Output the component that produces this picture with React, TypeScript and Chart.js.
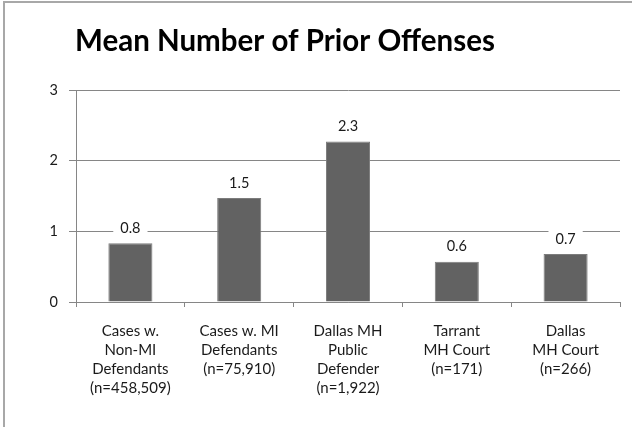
import React, { useEffect, useRef } from "react";
import { Chart, registerables } from "chart.js";

Chart.register(...registerables);

const titleText = "Mean Number of Prior Offenses";
const categories: string[][] = [
  ["Cases w.", "Non-MI", "Defendants", "(n=458,509)"],
  ["Cases w. MI", "Defendants", "(n=75,910)"],
  ["Dallas MH", "Public", "Defender", "(n=1,922)"],
  ["Tarrant", "MH Court", "(n=171)"],
  ["Dallas", "MH Court", "(n=266)"],
];
const meanPriorOffenses = [0.83, 1.47, 2.27, 0.57, 0.68];
const yTicks = [0, 1, 2, 3];

const FONT = "Lato, 'Open Sans', 'DejaVu Sans', sans-serif";

export default function App() {
  const ref = useRef<HTMLCanvasElement | null>(null);

  useEffect(() => {
    const canvas = ref.current;
    if (!canvas) return;

    const framePlugin = {
      id: "frame",
      beforeDraw(chart: any) {
        const ctx = chart.ctx;
        ctx.save();
        ctx.fillStyle = "#ffffff";
        ctx.fillRect(0, 0, chart.width, chart.height);
        ctx.fillStyle = "#a8a8a8";
        ctx.fillRect(3, 1, chart.width - 3, 2);
        ctx.fillRect(3, 1, 2, chart.height - 1);
        ctx.restore();
      },
      afterDraw(chart: any) {
        const ctx = chart.ctx;
        ctx.save();
        ctx.fillStyle = "#000000";
        ctx.font = `bold 29.5px ${FONT}`;
        ctx.textAlign = "left";
        ctx.textBaseline = "alphabetic";
        ctx.fillText(titleText, 75, 51);
        ctx.restore();
      },
    };

    const labelPlugin = {
      id: "barLabels",
      afterDatasetsDraw(chart: any) {
        const ctx = chart.ctx;
        const meta = chart.getDatasetMeta(0);
        ctx.save();
        ctx.font = `14.5px ${FONT}`;
        ctx.textAlign = "center";
        ctx.textBaseline = "middle";
        meta.data.forEach((bar: any, i: number) => {
          const txt = meanPriorOffenses[i].toFixed(1);
          const w = ctx.measureText(txt).width + 14;
          const cy = bar.y - 15;
          ctx.fillStyle = "#ffffff";
          ctx.fillRect(bar.x - w / 2, cy - 9, w, 18);
          ctx.fillStyle = "#1a1a1a";
          ctx.fillText(txt, bar.x, cy);
        });
        ctx.restore();
      },
    };

    const chart = new Chart(canvas, {
      type: "bar",
      data: {
        labels: categories,
        datasets: [
          {
            data: meanPriorOffenses,
            backgroundColor: "#626262",
            borderColor: "#7c7c7c",
            borderWidth: 1,
            categoryPercentage: 1,
            barPercentage: 0.405,
          },
        ],
      },
      options: {
        animation: false,
        responsive: false,
        devicePixelRatio: 1,
        layout: { padding: { top: 90, right: 12, left: 0, bottom: 0 } },
        plugins: {
          legend: { display: false },
          title: { display: false },
          tooltip: { enabled: false },
        },
        scales: {
          x: {
            grid: {
              display: true,
              drawOnChartArea: false,
              drawTicks: true,
              tickLength: 5,
              color: "#868686",
              offset: true,
            },
            border: { display: true, color: "#868686", width: 1 },
            ticks: {
              color: "#1a1a1a",
              font: { family: FONT, size: 15, lineHeight: "19px" },
              padding: 15,
              maxRotation: 0,
              autoSkip: false,
            },
            afterFit(scale: any) {
              scale.height = 427 - 302;
            },
          },
          y: {
            min: 0,
            max: 3,
            afterBuildTicks(scale: any) {
              scale.ticks = yTicks.map((v) => ({ value: v }));
            },
            grid: {
              color: "#868686",
              lineWidth: 1,
              drawTicks: true,
              tickLength: 7,
            },
            border: { display: true, color: "#868686", width: 1 },
            ticks: {
              color: "#1a1a1a",
              font: { family: FONT, size: 14.5 },
              padding: 11,
            },
            afterFit(scale: any) {
              scale.width = 76;
            },
          },
        },
      },
      plugins: [framePlugin, labelPlugin],
    });

    return () => chart.destroy();
  }, []);

  return (
    <div style={{ position: "fixed", left: 0, top: 0, width: 632, height: 427, background: "#fff" }}>
      <canvas ref={ref} width={632} height={427} style={{ display: "block", width: 632, height: 427 }} />
    </div>
  );
}
